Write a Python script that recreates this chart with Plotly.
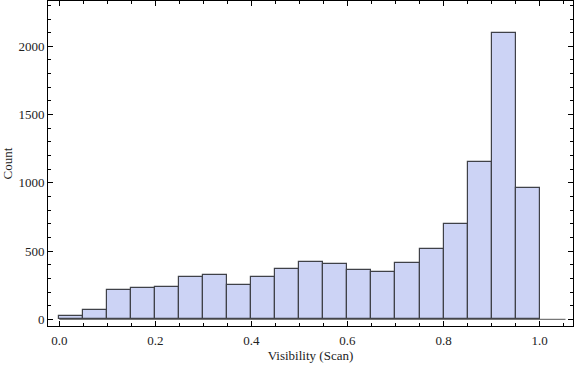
import plotly.graph_objects as go

bin_left = [0.00, 0.05, 0.10, 0.15, 0.20, 0.25, 0.30, 0.35, 0.40, 0.45,
            0.50, 0.55, 0.60, 0.65, 0.70, 0.75, 0.80, 0.85, 0.90, 0.95]
counts = [22, 66, 212, 227, 234, 308, 322, 249, 308, 366,
          418, 403, 361, 344, 410, 513, 698, 1150, 2095, 960]
bin_width = 0.05
x_tickvals = [0.0, 0.2, 0.4, 0.6, 0.8, 1.0]
x_ticktext = ["0.0", "0.2", "0.4", "0.6", "0.8", "1.0"]
y_tickvals = [0, 500, 1000, 1500, 2000]

font = dict(family="Liberation Serif, Times New Roman, serif", size=13, color="#222222")

fig = go.Figure()
fig.add_trace(go.Bar(
    x=[b + bin_width / 2 for b in bin_left],
    y=counts,
    width=bin_width,
    marker=dict(color="#CCD3F5", line=dict(color="#3f4148", width=1.2)),
    hoverinfo="x+y",
))
# axis line at y = 0
fig.add_shape(type="line", xref="x", yref="y", x0=0, x1=1.054, y0=0, y1=0,
              line=dict(color="#555555", width=1), layer="above")

fig.update_layout(
    width=576, height=366,
    margin=dict(l=48, r=3, t=1, b=40),
    paper_bgcolor="white", plot_bgcolor="white",
    font=font, showlegend=False, bargap=0,
)
fig.update_xaxes(
    automargin=False,
    range=[-0.0235, 1.0696],
    tickvals=x_tickvals, ticktext=x_ticktext,
    ticks="inside", ticklen=5, tickcolor="black", tickwidth=1,
    showline=True, linecolor="black", linewidth=1, mirror="ticks",
    showgrid=False, zeroline=False,
    minor=dict(dtick=0.05, tick0=0, ticks="inside", ticklen=3, tickcolor="black", showgrid=False),
    title=dict(text="Visibility (Scan)", standoff=4, font=font),
    tickfont=font, ticklabelstandoff=2,
)
fig.update_yaxes(
    automargin=False,
    range=[-49, 2332],
    tickvals=y_tickvals,
    ticks="inside", ticklen=5, tickcolor="black", tickwidth=1,
    showline=True, linecolor="black", linewidth=1, mirror="ticks",
    showgrid=False, zeroline=False,
    minor=dict(dtick=100, tick0=0, ticks="inside", ticklen=3, tickcolor="black", showgrid=False),
    title=dict(text="Count", standoff=2, font=font),
    tickfont=font, ticklabelstandoff=0,
)
fig.write_html("out.html", config={"displayModeBar": False},
               post_script="document.body.style.margin='0px';document.body.style.padding='0px';")
